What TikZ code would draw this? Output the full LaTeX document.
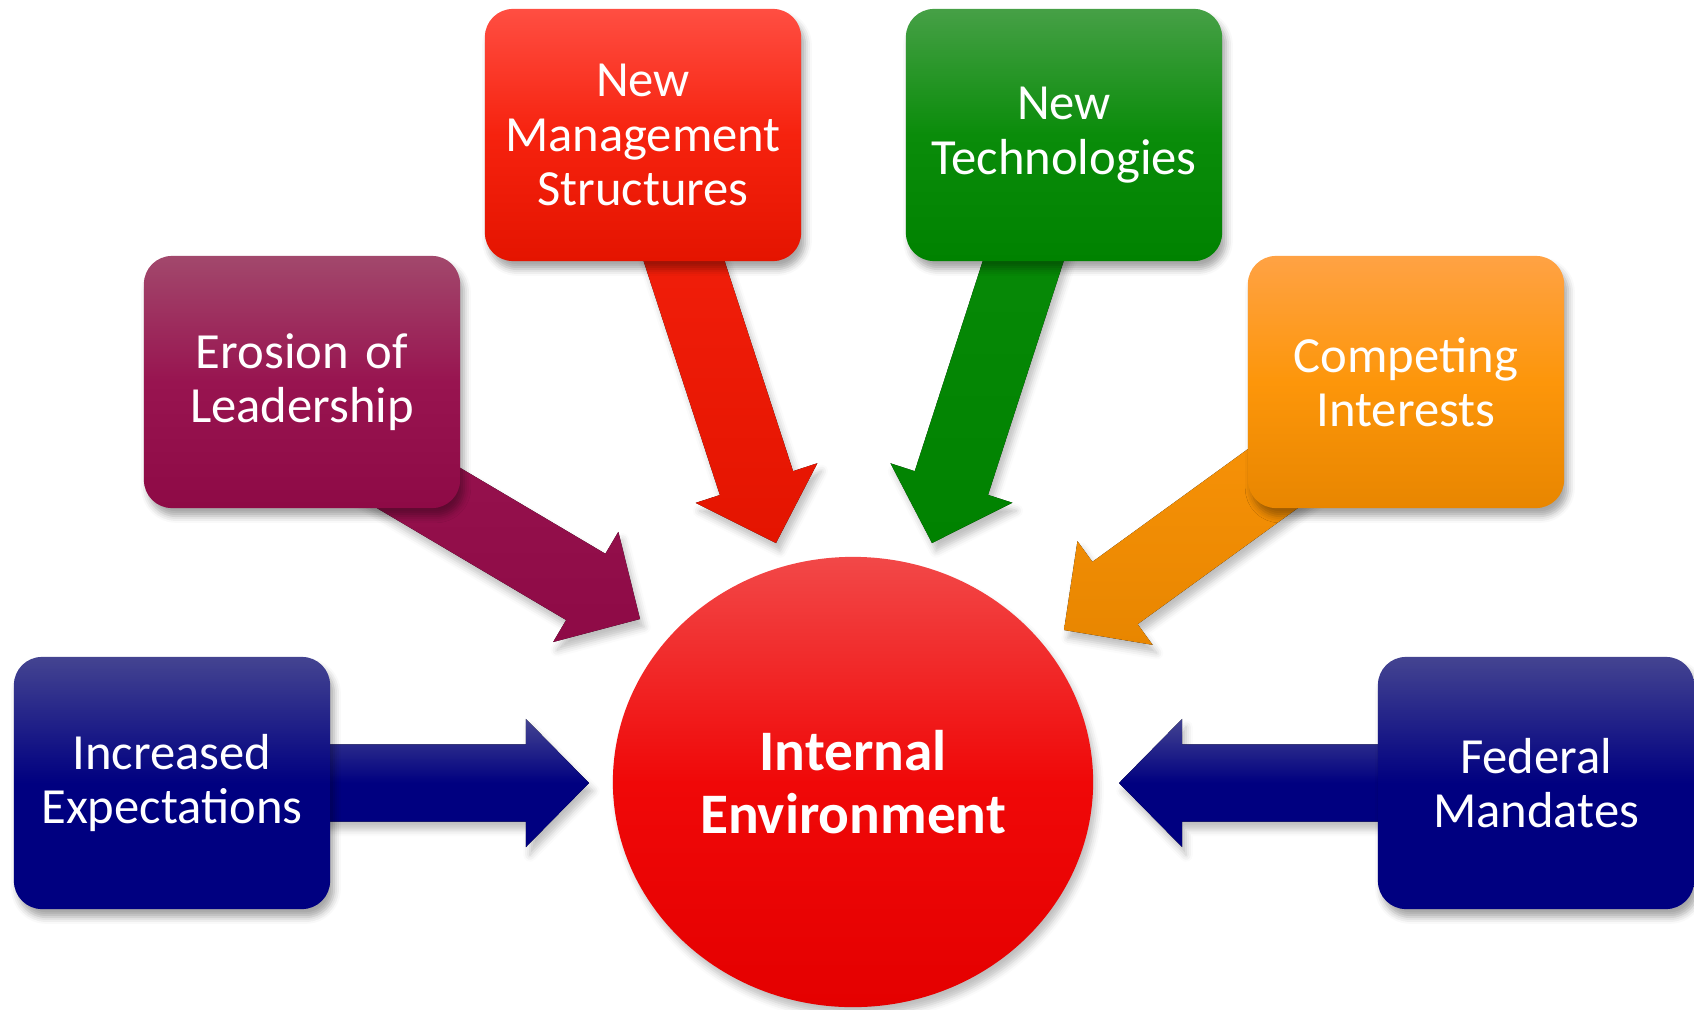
\documentclass[tikz,border=0pt]{standalone}
\usepackage{fontspec}
\setmainfont{Carlito}
\usepackage{tikz}
\definecolor{navytop}{RGB}{68,68,145}
\definecolor{navybase}{RGB}{0,0,128}
\definecolor{plumtop}{RGB}{162,72,108}
\definecolor{plummid}{RGB}{152,20,80}
\definecolor{plumbase}{RGB}{142,10,70}
\definecolor{redtop}{RGB}{255,78,66}
\definecolor{redmid}{RGB}{246,34,14}
\definecolor{redbase}{RGB}{228,20,0}
\definecolor{greentop}{RGB}{70,160,70}
\definecolor{greenmid}{RGB}{10,140,10}
\definecolor{greenbase}{RGB}{0,130,0}
\definecolor{orangetop}{RGB}{255,162,68}
\definecolor{orangemid}{RGB}{253,150,10}
\definecolor{orangebase}{RGB}{232,134,0}
\definecolor{circtop}{RGB}{242,72,72}
\definecolor{circmid}{RGB}{240,8,8}
\definecolor{circbase}{RGB}{228,0,0}
\usetikzlibrary{calc, backgrounds, shadows.blur, shapes.geometric}

\tikzset{
	box/.style={rectangle, rounded corners=0.28cm, minimum width=3.16cm, minimum height=2.52cm,
		text width=2.8cm, align=center, text=white, font=\fontsize{14.4pt}{15.5pt}\selectfont,
		blur shadow={shadow xshift=0.4mm, shadow yshift=-0.8mm, shadow opacity=35}},
	hub/.style={ellipse, minimum width=4.8cm, minimum height=4.5cm, inner sep=0pt, align=center,
		text=white, font=\bfseries\fontsize{16.3pt}{17.9pt}\selectfont,
		blur shadow={shadow xshift=0.4mm, shadow yshift=-0.8mm, shadow opacity=25}},
	shaft/.style={blur shadow={shadow xshift=0.4mm, shadow yshift=-0.8mm, shadow opacity=25}},
}

\newcommand{\bigarrow}[3]{%
	\coordinate (hb) at ($(#2)!0.63cm!(#1)$);
	\fill[shaft, #3] ($(#1)!0.385cm!90:(#2)$) -- ($(hb)!0.385cm!90:(#2)$) -- ($(hb)!0.64cm!90:(#2)$)
		-- (#2) -- ($(hb)!0.64cm!-90:(#2)$) -- ($(hb)!0.385cm!-90:(#2)$) -- ($(#1)!0.385cm!-90:(#2)$) -- cycle;
}

\begin{document}
\begin{tikzpicture}[x=0.01cm, y=-0.01cm]
	\useasboundingbox (0,0) rectangle (1694,1009);
	
	\node[hub, top color=circtop, bottom color=circbase, middle color=circmid] (env) at (853,782) {Internal\\Environment};
	
	\node[box, top color=navytop, bottom color=navybase, middle color=navybase] (inc) at (172,783) {Increased\\Expectations};
	\node[box, top color=navytop, bottom color=navybase, middle color=navybase] (fed) at (1536,783) {Federal\\Mandates};
	\node[box, top color=plumtop, bottom color=plumbase, middle color=plummid] (ero) at (302,382) {Erosion of\\Leadership};
	\node[box, top color=orangetop, bottom color=orangebase, middle color=orangemid] (comp) at (1406,382) {Competing\\Interests};
	\node[box, top color=redtop, bottom color=redbase, middle color=redmid] (mgmt) at (643,135) {New\\Management\\Structures};
	\node[box, top color=greentop, bottom color=greenbase, middle color=greenmid] (tech) at (1064,135) {New\\Technologies};
	
	\coordinate (tinc) at (589,783);
	\coordinate (tfed) at (1119,783);
	\coordinate (tero) at (640,619);
	\coordinate (tcomp) at (1064,630);
	\coordinate (tmgmt) at (776,543);
	\coordinate (ttech) at (932,543);
	\coordinate (ero-tail) at ($(ero.center)+(0,37)$);
	
	\begin{scope}[on background layer]
		\bigarrow{inc.center}{tinc}{top color=navytop, bottom color=navybase, middle color=navybase}
		\bigarrow{fed.center}{tfed}{top color=navytop, bottom color=navybase, middle color=navybase}
		\bigarrow{ero-tail}{tero}{top color=plummid, bottom color=plumbase}
		\bigarrow{comp.center}{tcomp}{top color=orangemid, bottom color=orangebase}
		\bigarrow{mgmt.center}{tmgmt}{top color=redmid, bottom color=redbase}
		\bigarrow{tech.center}{ttech}{top color=greenmid, bottom color=greenbase}
	\end{scope}
	
\end{tikzpicture}
\end{document}
